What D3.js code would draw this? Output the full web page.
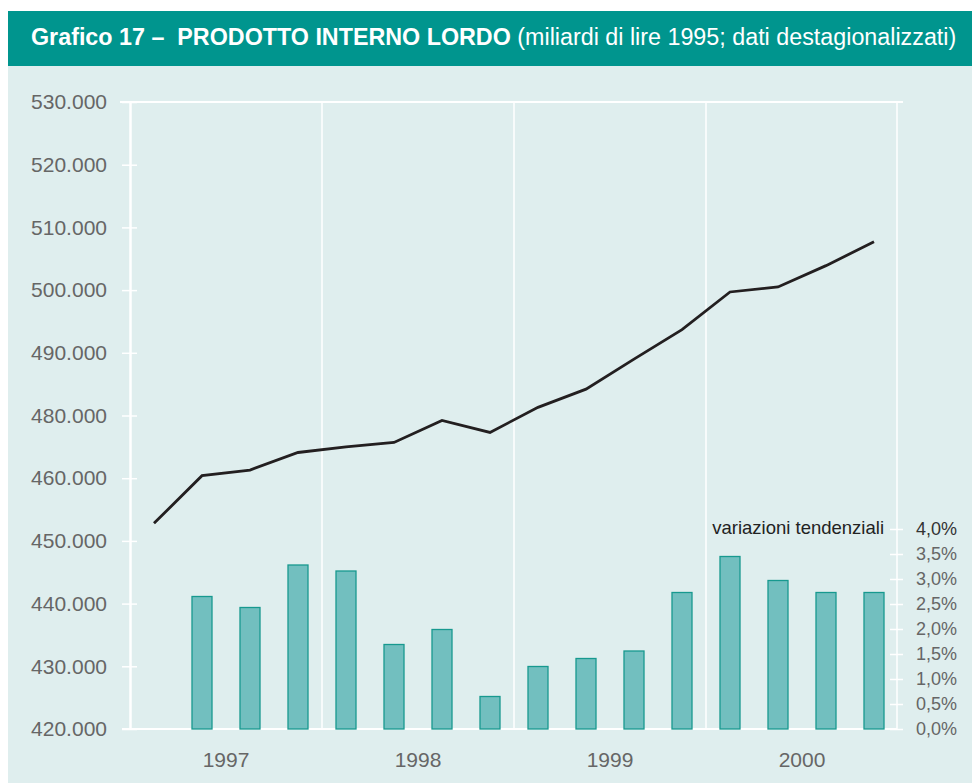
<!DOCTYPE html>
<html>
<head>
<meta charset="utf-8">
<script src="https://cdn.jsdelivr.net/npm/d3@7"></script>
<style>
  body { margin: 0; background: #fff; }
  svg { display: block; }
  text { font-family: "Liberation Sans", Arial, sans-serif; }
</style>
</head>
<body>
<svg id="chart" width="972" height="783"></svg>
<script>
const quarters = [
    "1997 T1", "1997 T2", "1997 T3", "1997 T4",
    "1998 T1", "1998 T2", "1998 T3", "1998 T4",
    "1999 T1", "1999 T2", "1999 T3", "1999 T4",
    "2000 T1", "2000 T2", "2000 T3", "2000 T4"
];
const years = ["1997", "1998", "1999", "2000"];

// PIL, miliardi di lire 1995
const gdp = [
    462800, 470400, 471300, 474100,
    475000, 475700, 479200, 477300,
    481300, 484200, 489000, 493700,
    499700, 500500, 503900, 507700
];

// variazioni tendenziali, %
const growth = [
    null, 2.65, 2.43, 3.28,
    3.16, 1.69, 1.99, 0.65,
    1.25, 1.41, 1.56, 2.73,
    3.45, 2.97, 2.73, 2.73
];

const gdpTicks = [430000, 440000, 450000, 460000, 470000, 480000, 490000, 500000, 510000, 520000, 530000];
// etichette come nel grafico originale
const gdpTickLabels = ["420.000", "430.000", "440.000", "450.000", "460.000", "480.000",
    "490.000", "500.000", "510.000", "520.000", "530.000"];
const growthTicks = [0, 0.5, 1, 1.5, 2, 2.5, 3, 3.5, 4];
const growthTickLabels = ["0,0%", "0,5%", "1,0%", "1,5%", "2,0%", "2,5%", "3,0%", "3,5%", "4,0%"];

const svg = d3.select("#chart");
const plotLeft = 130, plotRight = 897, plotTop = 102, plotBottom = 729;

svg.append("rect").attr("x", 8).attr("y", 11).attr("width", 964).attr("height", 55)
    .attr("fill", "#00958e");
svg.append("rect").attr("x", 8).attr("y", 66).attr("width", 964).attr("height", 717)
    .attr("fill", "#dfeeee");

const title = svg.append("text")
    .attr("x", 31).attr("y", 45)
    .attr("fill", "#fff")
    .attr("font-size", 23.3)
    .style("white-space", "pre");
title.append("tspan").attr("font-weight", "bold").text("Grafico 17 –  PRODOTTO INTERNO LORDO");
title.append("tspan").text(" (miliardi di lire 1995; dati destagionalizzati)");

const x = d3.scaleBand().domain(quarters).range([plotLeft, plotRight + 1]);
const xYear = d3.scaleBand().domain(years).range([plotLeft, plotRight + 1]);
const y = d3.scaleLinear().domain([430000, 530000]).range([plotBottom, plotTop]);
const y2 = d3.scaleLinear().domain([0, 4]).range([plotBottom, 529]);

// griglia anni
svg.selectAll(".year-grid")
    .data(years.slice(1))
    .enter()
    .append("line")
    .attr("class", "year-grid")
    .attr("x1", (d) => xYear(d))
    .attr("x2", (d) => xYear(d))
    .attr("y1", plotTop)
    .attr("y2", plotBottom)
    .attr("stroke", "#fff")
    .attr("stroke-width", 1.5);

// cornice
svg.append("line").attr("x1", 120).attr("x2", 903).attr("y1", plotTop).attr("y2", plotTop)
    .attr("stroke", "#fff").attr("stroke-width", 2);
svg.append("line").attr("x1", plotRight).attr("x2", plotRight).attr("y1", plotTop).attr("y2", plotBottom)
    .attr("stroke", "#fff").attr("stroke-width", 1.5);
svg.append("line").attr("x1", 122).attr("x2", plotRight).attr("y1", plotBottom).attr("y2", plotBottom)
    .attr("stroke", "#fff").attr("stroke-width", 2);

// asse sinistro
const yAxis = svg.append("g")
    .attr("transform", `translate(${plotLeft},0)`)
    .call(d3.axisLeft(y)
        .tickValues(gdpTicks)
        .tickFormat((d, i) => gdpTickLabels[i])
        .tickSize(8)
        .tickSizeOuter(0)
        .tickPadding(15));
yAxis.select(".domain").attr("stroke", "#fff").attr("stroke-width", 2.5);
yAxis.selectAll(".tick line").attr("x1", 7).attr("stroke", "#fff").attr("stroke-width", 1.5);
yAxis.selectAll(".tick text")
    .attr("fill", "#666")
    .attr("font-size", 21)
    .attr("font-family", "'Liberation Sans', Arial, sans-serif");

// asse destro
const y2Axis = svg.append("g")
    .attr("transform", `translate(${plotRight},0)`)
    .call(d3.axisRight(y2)
        .tickValues(growthTicks)
        .tickFormat((d, i) => growthTickLabels[i])
        .tickSize(6)
        .tickSizeOuter(0)
        .tickPadding(13));
y2Axis.select(".domain").remove();
y2Axis.selectAll(".tick line").attr("x1", -7).attr("stroke", "#fff").attr("stroke-width", 1.5);
y2Axis.selectAll(".tick text")
    .attr("fill", (d) => (d === 4 ? "#333" : "#666"))
    .attr("font-size", 18)
    .attr("font-family", "'Liberation Sans', Arial, sans-serif");

svg.append("text")
    .attr("x", 884).attr("y", y2(4) + 5)
    .attr("text-anchor", "end")
    .attr("fill", "#222")
    .attr("font-size", 18.5)
    .text("variazioni tendenziali");

// barre
const barW = 20;
svg.selectAll(".bar")
    .data(quarters.map((q, i) => ({ q, v: growth[i] })).filter((d) => d.v != null))
    .enter()
    .append("rect")
    .attr("class", "bar")
    .attr("x", (d) => x(d.q) + x.bandwidth() / 2 - barW / 2)
    .attr("y", (d) => y2(d.v))
    .attr("width", barW)
    .attr("height", (d) => y2(0) - y2(d.v))
    .attr("fill", "#72bfbf")
    .attr("stroke", "#17998f")
    .attr("stroke-width", 1.3);

// linea PIL
const line = d3.line()
    .x((d, i) => x(quarters[i]) + x.bandwidth() / 2)
    .y((d) => y(d));
svg.append("path")
    .datum(gdp)
    .attr("d", line)
    .attr("fill", "none")
    .attr("stroke", "#231f20")
    .attr("stroke-width", 2.8);

// etichette anni
svg.selectAll(".year-label")
    .data(years)
    .enter()
    .append("text")
    .attr("class", "year-label")
    .attr("x", (d) => xYear(d) + xYear.bandwidth() / 2)
    .attr("y", 767)
    .attr("text-anchor", "middle")
    .attr("fill", "#666")
    .attr("font-size", 21)
    .text((d) => d);
</script>
</body>
</html>
